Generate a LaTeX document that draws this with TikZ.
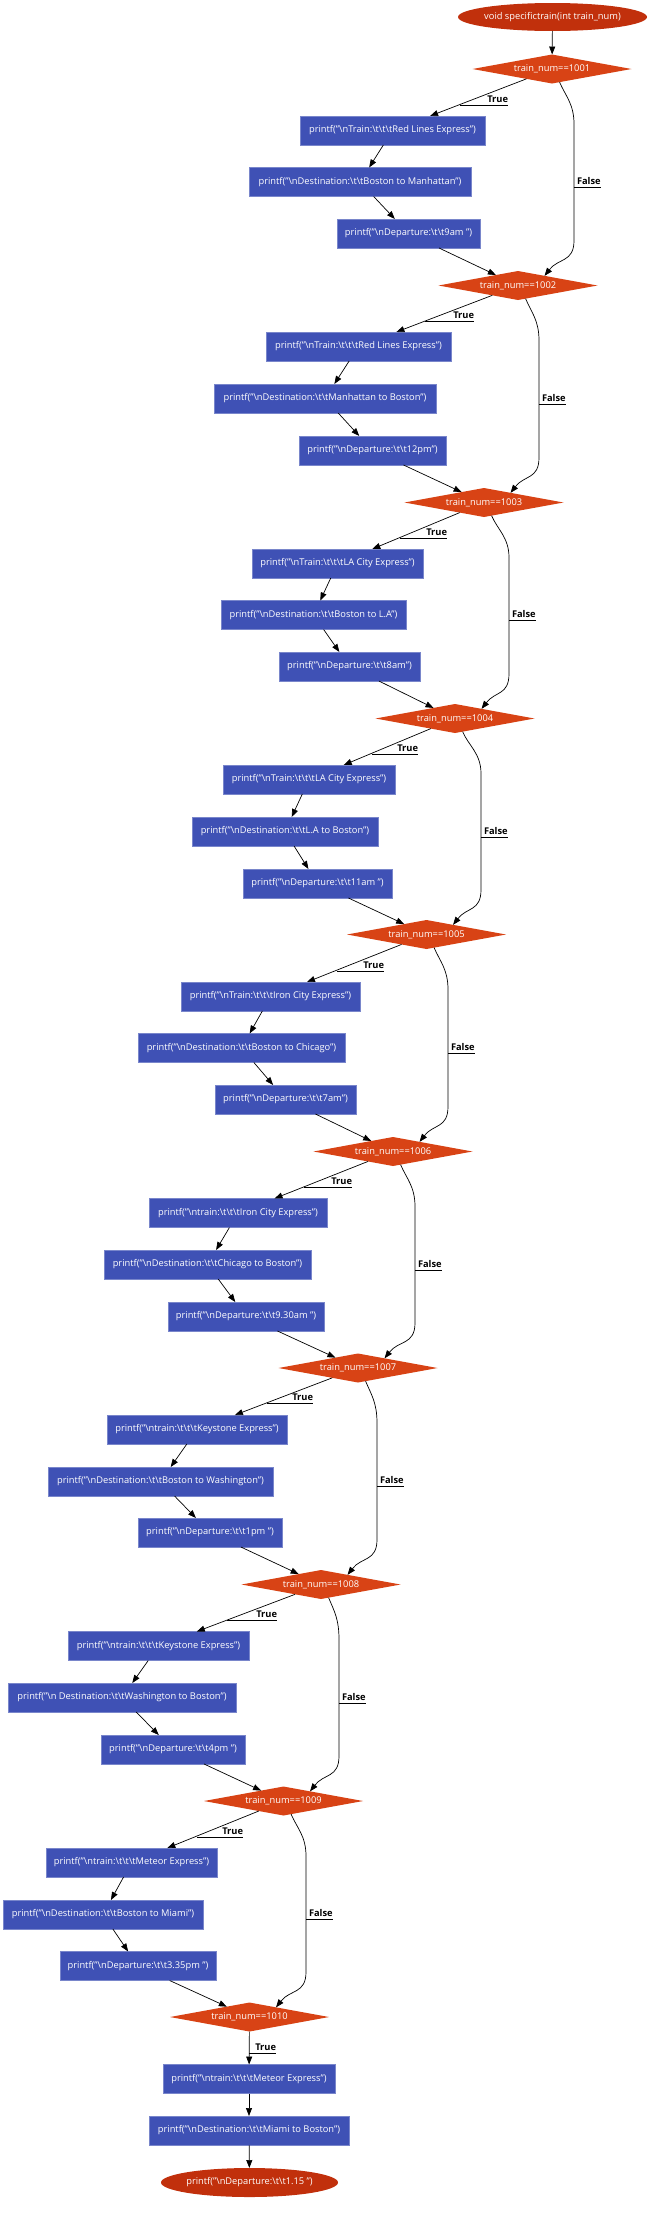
\documentclass[tikz,border=0pt]{standalone}
\usepackage{fontspec}
\setmainfont{Open Sans}
\usetikzlibrary{shapes.geometric,arrows.meta}
\definecolor{boxblue}{HTML}{3F51B5}
\definecolor{boxline}{HTML}{7986CB}
\definecolor{decor}{HTML}{D84315}
\definecolor{termc}{HTML}{C1300C}
\newcommand\bs{\textbackslash}
\newcommand\boxfont{\fontsize{9.3}{11}\selectfont}
\newcommand\lblfont{\fontsize{9.3}{11}\selectfont\bfseries}
\begin{document}
\begin{tikzpicture}[x=1pt,y=-1pt,
  box/.style={rectangle, fill=boxblue, draw=boxline, line width=0.5pt, text=white,
    minimum height=29pt, inner sep=0pt, outer sep=0pt, font=\boxfont},
  dec/.style={diamond, aspect=5.5, fill=decor, draw=none, text=white,
    minimum width=159pt, minimum height=29pt, inner sep=0pt, outer sep=0pt, font=\boxfont},
  term/.style={ellipse, fill=termc, draw=none, text=white,
    minimum height=29pt, inner sep=0pt, outer sep=0pt, font=\boxfont},
  edge/.style={draw=black, line width=0.7pt, -{Triangle[length=8pt,width=6pt]}},
  lbl/.style={font=\lblfont, text=black, inner xsep=0pt, inner ysep=2.5pt, outer sep=0pt},
  uline/.style={draw=black, line width=0.7pt}]
\useasboundingbox (0,0) rectangle (664,2214);

% start
\node[term, minimum width=189pt, minimum height=28pt] (start) at (552.5,17) {\makebox[0pt]{void specifictrain(int train\_num)}};

% decisions
\node[dec] (d1) at (552,69) {train\_num==1001};
\node[dec] (d2) at (518,285.5) {train\_num==1002};
\node[dec] (d3) at (484,502.5) {train\_num==1003};
\node[dec] (d4) at (455,718.5) {train\_num==1004};
\node[dec] (d5) at (426.5,934.5) {train\_num==1005};
\node[dec] (d6) at (393,1151.5) {train\_num==1006};
\node[dec] (d7) at (358,1368) {train\_num==1007};
\node[dec] (d8) at (321,1584.5) {train\_num==1008};
\node[dec] (d9) at (283.5,1801) {train\_num==1009};
\node[dec] (d10) at (249.5,2017) {train\_num==1010};

% level 1
\node[box, minimum width=185pt] (t1) at (392.5,130.5) {printf("\bs nTrain:\bs t\bs t\bs tRed Lines Express")};
\node[box, minimum width=222pt] (s1) at (360,182) {printf("\bs nDestination:\bs t\bs tBoston to Manhattan")};
\node[box, minimum width=143pt] (p1) at (408.5,233.5) {printf("\bs nDeparture:\bs t\bs t9am ")};
% level 2
\node[box, minimum width=185pt] (t2) at (358.5,346.5) {printf("\bs nTrain:\bs t\bs t\bs tRed Lines Express")};
\node[box, minimum width=222pt] (s2) at (325,398.5) {printf("\bs nDestination:\bs t\bs tManhattan to Boston")};
\node[box, minimum width=147pt] (p2) at (372.5,450.5) {printf("\bs nDeparture:\bs t\bs t12pm")};
% level 3
\node[box, minimum width=171pt] (t3) at (337.5,563.5) {printf("\bs nTrain:\bs t\bs t\bs tLA City Express")};
\node[box, minimum width=185pt] (s3) at (313.5,615) {printf("\bs nDestination:\bs t\bs tBoston to L.A")};
\node[box, minimum width=141pt] (p3) at (349.5,666.5) {printf("\bs nDeparture:\bs t\bs t8am")};
% level 4
\node[box, minimum width=172pt] (t4) at (309,779.5) {printf("\bs nTrain:\bs t\bs t\bs tLA City Express")};
\node[box, minimum width=186pt] (s4) at (285,831.5) {printf("\bs nDestination:\bs t\bs tL.A to Boston")};
\node[box, minimum width=149pt] (p4) at (317.5,883.5) {printf("\bs nDeparture:\bs t\bs t11am ")};
% level 5
\node[box, minimum width=179pt] (t5) at (270.5,996.5) {printf("\bs nTrain:\bs t\bs t\bs tIron City Express")};
\node[box, minimum width=207pt] (s5) at (241.5,1048) {printf("\bs nDestination:\bs t\bs tBoston to Chicago")};
\node[box, minimum width=141pt] (p5) at (285.5,1099.5) {printf("\bs nDeparture:\bs t\bs t7am")};
% level 6
\node[box, minimum width=178pt] (t6) at (238,1213) {printf("\bs ntrain:\bs t\bs t\bs tIron City Express")};
\node[box, minimum width=207pt] (s6) at (207.5,1264.5) {printf("\bs nDestination:\bs t\bs tChicago to Boston")};
\node[box, minimum width=156pt] (p6) at (246,1316.5) {printf("\bs nDeparture:\bs t\bs t9.30am ")};
% level 7
\node[box, minimum width=180pt] (t7) at (197,1429.5) {printf("\bs ntrain:\bs t\bs t\bs tKeystone Express")};
\node[box, minimum width=225pt] (s7) at (160.5,1481.5) {printf("\bs nDestination:\bs t\bs tBoston to Washington")};
\node[box, minimum width=144pt] (p7) at (210,1532.5) {printf("\bs nDeparture:\bs t\bs t1pm ")};
% level 8
\node[box, minimum width=181pt] (t8) at (158.5,1646) {printf("\bs ntrain:\bs t\bs t\bs tKeystone Express")};
\node[box, minimum width=228pt] (s8) at (122,1697.5) {printf("\bs n Destination:\bs t\bs tWashington to Boston")};
\node[box, minimum width=144pt] (p8) at (173,1749.5) {printf("\bs nDeparture:\bs t\bs t4pm ")};
% level 9
\node[box, minimum width=171pt] (t9) at (131.5,1862.5) {printf("\bs ntrain:\bs t\bs t\bs tMeteor Express")};
\node[box, minimum width=200pt] (s9) at (103,1914.5) {printf("\bs nDestination:\bs t\bs tBoston to Miami")};
\node[box, minimum width=156pt] (p9) at (138,1966) {printf("\bs nDeparture:\bs t\bs t3.35pm ")};
% level 10
\node[box, minimum width=172pt] (t10) at (249,2079) {printf("\bs ntrain:\bs t\bs t\bs tMeteor Express")};
\node[box, minimum width=200pt] (s10) at (249,2130.5) {printf("\bs nDestination:\bs t\bs tMiami to Boston")};
\node[term, minimum width=177pt] (end) at (249.5,2182.5) {\makebox[0pt]{printf("\bs nDeparture:\bs t\bs t1.15 ")}};

% straight connectors
\draw[edge] (start) -- (d1);
\foreach \i/\n in {1/2,2/3,3/4,4/5,5/6,6/7,7/8,8/9,9/10}{
  \draw[edge] (d\i) -- (t\i);
  \draw[edge] (t\i) -- (s\i);
  \draw[edge] (s\i) -- (p\i);
  \draw[edge] (p\i) -- (d\n);
}
\draw[edge] (d10) -- (t10);
\draw[edge] (t10) -- (s10);
\draw[edge] (s10) -- (end);

% False connectors
\foreach \i/\n/\dy/\ny/\vx in {1/2/69/285.5/574, 2/3/285.5/502.5/539, 3/4/502.5/718.5/509,
  4/5/718.5/934.5/481, 5/6/934.5/1151.5/448, 6/7/1151.5/1368/415,
  7/8/1368/1584.5/377, 8/9/1584.5/1801/339, 9/10/1801/2017/306}{
  \draw[edge] (d\i.-60) .. controls +(6,14) and +(0,-20) .. (\vx,\dy+55)
     -- (\vx,\ny-45) .. controls +(0,22) and +(14,-18) .. (d\n.20);
}

% True labels
\foreach \i/\ux/\rx/\uy in {1/460/508/105, 2/425/474/321, 3/400/447/538, 4/372/418/754,
  5/337/384/971, 6/304/352/1187, 7/267/313/1403, 8/227/277/1620, 9/197/243/1837, 10/249/276/2053}{
  \node[lbl, anchor=south east] (tl\i) at (\rx,\uy) {True};
  \coordinate (tu\i) at (\ux,\uy);
  \draw[uline] (tu\i) -- (tl\i.south east);
}

% False labels
\foreach \i/\vx/\uy in {1/574/187, 2/539/404, 3/509/620, 4/481/837, 5/448/1053,
  6/415/1270, 7/377/1486, 8/339/1703, 9/306/1919}{
  \node[lbl, anchor=south west] (fl\i) at (\vx+3,\uy) {False};
  \coordinate (fu\i) at (\vx,\uy);
  \draw[uline] (fu\i) -- (fl\i.south east);
}
\end{tikzpicture}
\end{document}
